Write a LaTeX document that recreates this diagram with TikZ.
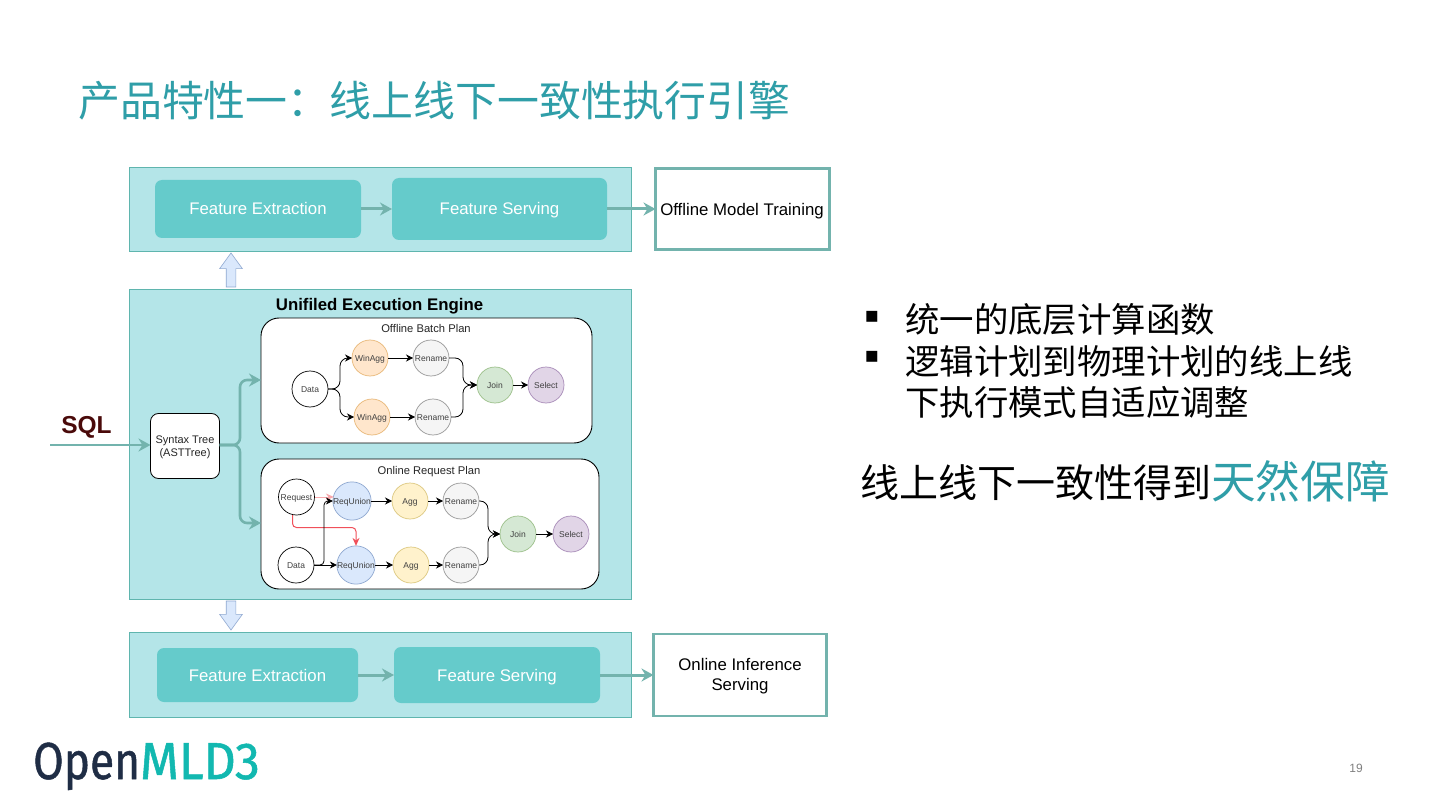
\documentclass[tikz,border=0pt]{standalone}
\usepackage{fontspec}
\setmainfont{Liberation Sans}
\newfontfamily\cjk{Noto Sans CJK SC}
\newfontfamily\logofont[FakeBold=1]{Fira Sans}
\usetikzlibrary{arrows.meta,shapes.arrows,calc}
\definecolor{titleteal}{HTML}{2F9EA8}
\definecolor{panelfill}{HTML}{B4E5E8}
\definecolor{panelline}{HTML}{5FB5AE}
\definecolor{featfill}{HTML}{65CBCB}
\definecolor{flowline}{HTML}{73B3AD}
\definecolor{sqlred}{HTML}{4A0A0A}
\definecolor{orangefill}{HTML}{FFE6CC}\definecolor{orangeline}{HTML}{E8B878}
\definecolor{yellowfill}{HTML}{FFF2CC}\definecolor{yellowline}{HTML}{DCC880}
\definecolor{grayfill}{HTML}{F5F5F5}\definecolor{grayline}{HTML}{999999}
\definecolor{greenfill}{HTML}{D5E8D4}\definecolor{greenline}{HTML}{9CC08A}
\definecolor{purplefill}{HTML}{E1D5E7}\definecolor{purpleline}{HTML}{A88CB8}
\definecolor{bluefill}{HTML}{DAE8FC}\definecolor{blueline}{HTML}{8FA8D0}
\definecolor{blockfill}{HTML}{DAE8FC}\definecolor{redflow}{HTML}{F0505A}
\tikzset{
  x=1pt,y=-1pt,
  boxbase/.style={anchor=north west,inner sep=0pt,outer sep=0pt,align=center},
  panel/.style={boxbase,draw=panelline,fill=panelfill,line width=1pt},
  feat/.style={anchor=center,inner sep=0pt,outer sep=0pt,fill=featfill,rounded corners=7pt,text=white,text height=12pt,text depth=0pt,font=\fontsize{16.8}{18}\selectfont},
  target/.style={anchor=center,inner sep=0pt,outer sep=0pt,draw=flowline,fill=white,line width=2.8pt},
  boxtext/.style={inner sep=0pt,align=center,font=\fontsize{16.8}{20}\selectfont},
  plan/.style={boxbase,draw=black,fill=white,line width=.9pt,rounded corners=18pt},
  op/.style={circle,draw=black,fill=white,line width=.7pt,minimum size=36pt,inner sep=0pt,outer sep=0pt,text height=6.1pt,text depth=0pt,font=\fontsize{8.5}{10}\selectfont,text=black!75},
  orangeop/.style={op,draw=orangeline,fill=orangefill},
  yellowop/.style={op,draw=yellowline,fill=yellowfill},
  grayop/.style={op,draw=grayline,fill=grayfill},
  greenop/.style={op,draw=greenline,fill=greenfill},
  purpleop/.style={op,draw=purpleline,fill=purplefill},
  blueop/.style={op,draw=blueline,fill=bluefill},
  flowarrow/.style={draw=flowline,line width=3pt,-{Stealth[length=12pt,width=13pt]}},
  oparrow/.style={draw=black,line width=.8pt,-{Stealth[length=7pt,width=7pt]}},
  elbow/.style={oparrow,rounded corners=8pt},
  redarrow/.style={draw=redflow,line width=1pt,-{Stealth[length=8pt,width=7pt]},rounded corners=4pt},
  blockarrow/.style={single arrow,draw=blueline,fill=blockfill,line width=.6pt,inner xsep=0pt,inner ysep=4.5pt,outer sep=0pt,single arrow head extend=6.5pt,single arrow tip angle=72,anchor=tail},
  planlabel/.style={font=\fontsize{11.2}{13}\selectfont,text=black!85,inner sep=0pt},
  cjktext/.style={anchor=west,inner sep=0pt,font=\cjk\fontsize{34.4}{40}\selectfont,text=black},
  bulletmark/.style={inner sep=0pt,font=\fontsize{44}{46}\selectfont,text=black}
}
\begin{document}
\begin{tikzpicture}
\useasboundingbox (0,0) rectangle (1440,810);
\fill[white] (0,0) rectangle (1440,810);
% title
\node[anchor=west,inner sep=0pt,text=titleteal,font=\cjk\fontsize{41.9}{48}\selectfont] (title) at (78,101) {产品特性一：线上线下一致性执行引擎};
% panels
\node[panel,minimum width=502pt,minimum height=84pt] (toppanel) at (129,168) {};
\node[panel,minimum width=502pt,minimum height=309pt] (mainpanel) at (129,290) {};
\node[panel,minimum width=502pt,minimum height=85pt] (botpanel) at (129,632) {};
% top row
\node[feat,minimum width=206pt,minimum height=58pt] (fe1) at (258,209) {Feature Extraction};
\node[feat,minimum width=215pt,minimum height=62pt] (fs1) at (499.5,209) {Feature Serving};
\node[target,minimum width=174pt,minimum height=81pt] (omt) at (742.5,209) {};
\node[boxtext] (omttext) at (742,211) {Offline Model Training};
\draw[flowarrow] (fe1.east) -- (fs1.west);
\draw[flowarrow] (fs1.east) -- (omt.west);
% bottom row
\node[feat,minimum width=201pt,minimum height=54pt] (fe2) at (257.5,675) {Feature Extraction};
\node[feat,minimum width=206pt,minimum height=56pt] (fs2) at (497,675) {Feature Serving};
\node[target,minimum width=173pt,minimum height=82pt] (ois) at (740,675) {};
\node[boxtext] (oistext) at (740,676.5) {Online Inference\\Serving};
\draw[flowarrow] (fe2.east) -- (fs2.west);
\draw[flowarrow] (fs2.east) -- (ois.west);
% block arrows
\node[blockarrow,rotate=90,minimum height=34pt] (upa) at (231,287) {};
\node[blockarrow,rotate=-90,minimum height=29pt] (downa) at (231,601) {};
% main
\node[anchor=center,inner sep=0pt,font=\bfseries\fontsize{16.8}{18}\selectfont] (uee) at (379.5,306) {Unifiled Execution Engine};
\node[boxbase,draw=black,fill=white,line width=.8pt,rounded corners=8pt,minimum width=69pt,minimum height=65pt] (ast) at (150.5,413.5) {};
\node[inner sep=0pt,align=center,font=\fontsize{11}{13.2}\selectfont,text=black!85] (asttext) at (185,447.5) {Syntax Tree\\(ASTTree)};
\node[plan,minimum width=331pt,minimum height=125pt] (offplan) at (261,318) {};
\node[plan,minimum width=338pt,minimum height=130pt] (onplan) at (261,459) {};
\node[planlabel] (offlabel) at (426,328.5) {Offline Batch Plan};
\node[planlabel] (onlabel) at (429,471.5) {Online Request Plan};
\node[anchor=center,inner sep=0pt,text=sqlred,font=\bfseries\fontsize{24.5}{28}\selectfont] (sql) at (86.5,427.5) {SQL};
\coordinate (sqlstart) at (50,445);
\draw[flowarrow,line width=2.6pt] (sqlstart) -- (ast.west |- sqlstart);
\coordinate (astout) at (ast.east |- sqlstart);
\draw[flowarrow,line width=2.6pt,rounded corners=7pt] (astout) -- (240,445) -- (240,380) -- (offplan.west |- 0,380);
\draw[flowarrow,line width=2.6pt,rounded corners=7pt] (astout) -- (240,445) -- (240,523) -- (onplan.west |- 0,523);
% offline plan
\node[op] (data1) at (310,389) {Data};
\node[orangeop] (wa1) at (370,358) {WinAgg};
\node[grayop] (rn1) at (431,358) {Rename};
\node[orangeop] (wa2) at (372,417) {WinAgg};
\node[grayop] (rn2) at (433,417) {Rename};
\node[greenop] (join1) at (495,385) {Join};
\node[purpleop] (sel1) at (546,385) {Select};
\draw[elbow] (data1.east) -- ++(12,0) |- (wa1.west);
\draw[elbow] (data1.east) -- ++(12,0) |- (wa2.west);
\draw[oparrow] (wa1) -- (rn1);
\draw[oparrow] (wa2) -- (rn2);
\draw[elbow] (rn1.east) -| (463,385) -- (join1.west);
\draw[elbow] (rn2.east) -| (463,385) -- (join1.west);
\draw[oparrow] (join1) -- (sel1);
% online plan
\node[op] (req) at (296.5,497) {Request};
\node[op] (data2) at (296,565) {Data};
\node[blueop] (ru1) at (352,501) {ReqUnion};
\node[yellowop] (ag1) at (410,501) {Agg};
\node[grayop] (rn3) at (461,501) {Rename};
\node[blueop] (ru2) at (356,565) {ReqUnion};
\node[yellowop] (ag2) at (411,565) {Agg};
\node[grayop] (rn4) at (461,565) {Rename};
\node[greenop] (join2) at (518,534) {Join};
\node[purpleop] (sel2) at (571,534) {Select};
\draw[redarrow,draw=redflow!50] (req.east) -- ([xshift=1pt]ru1.west |- req.east);
\draw[redarrow] ([xshift=-4pt]req.south) -- (292.5,527.5) -- (356,527.5) -- (ru2.north);
\draw[oparrow,rounded corners=4pt] (data2.east) -- (324,565) -- (324,501) -- (ru1.west);
\draw[oparrow] (data2.east) -- (ru2.west);
\draw[oparrow] (ru1) -- (ag1);
\draw[oparrow] (ru2) -- (ag2);
\draw[oparrow] (ag1) -- (rn3);
\draw[oparrow] (ag2) -- (rn4);
\draw[elbow] (rn3.east) -| (488,534) -- (join2.west);
\draw[elbow] (rn4.east) -| (488,534) -- (join2.west);
\draw[oparrow] (join2) -- (sel2);
% right text
\node[bulletmark] (b1) at (872,320.5) {▪};
\node[bulletmark] (b2) at (872,360.5) {▪};
\node[cjktext] (t1) at (905,319.5) {统一的底层计算函数};
\node[cjktext] (t2) at (905,361.5) {逻辑计划到物理计划的线上线};
\node[cjktext] (t3) at (905,402.5) {下执行模式自适应调整};
\node[anchor=base west,inner sep=0pt,font=\cjk\fontsize{39}{46}\selectfont,text=black] (t4) at (860,497) {线上线下一致性得到\textcolor{titleteal}{\fontsize{44.7}{46}\selectfont\raisebox{-1.5pt}{天然保障}}};
% logo
\node[anchor=base west,inner sep=0pt,font=\logofont\fontsize{52}{56}\selectfont] (logo) at (33,779) {\scalebox{.85}[1]{\textcolor[HTML]{1F2D45}{Open}}\scalebox{.96}[1]{\textcolor[HTML]{12B8B0}{MLD3}}};
% page number
\node[inner sep=0pt,text=black!50,font=\fontsize{12}{14}\selectfont] (pg) at (1356,768) {19};
\end{tikzpicture}
\end{document}
